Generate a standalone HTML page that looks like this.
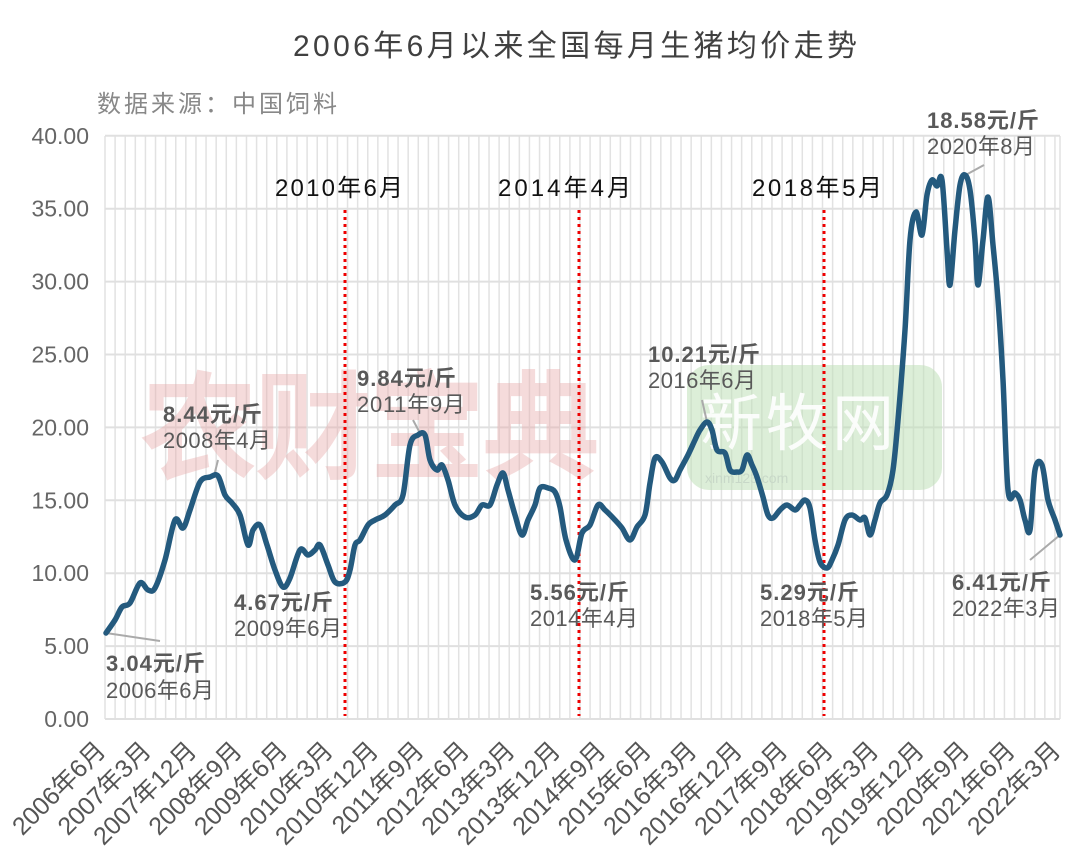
<!DOCTYPE html>
<html><head><meta charset="utf-8"><style>
body{margin:0;background:#fff;}
svg{display:block;font-family:"Liberation Sans","Noto Sans CJK SC",sans-serif;}
</style></head><body>
<svg id="s" width="1080" height="868" viewBox="0 0 1080 868">
<text x="293" y="56" font-size="30" fill="#404040" textLength="564">2006年6月以来全国每月生猪均价走势</text>
<text x="97" y="112" font-size="24" fill="#888" letter-spacing="3">数据来源：中国饲料</text>
<g id="grid"></g>
<text x="140" y="470" font-size="118" font-weight="bold" fill="#e8a8a8" opacity="0.4" letter-spacing="-4">农财宝典</text>
<rect x="687" y="365" width="255" height="125" rx="22" fill="#bfe0b8" opacity="0.55"/>
<text x="700" y="445" font-size="62" fill="#fff" opacity="0.9" letter-spacing="4">新牧网</text>
<text x="705" y="483" font-size="14" fill="#c8d8c8">xinm123.com</text>
<g stroke="#e00" stroke-width="3" stroke-dasharray="3,4">
<line x1="345" y1="210" x2="345" y2="716"/><line x1="579" y1="210" x2="579" y2="716"/><line x1="824" y1="210" x2="824" y2="716"/>
</g>
<g font-size="24" fill="#111">
<text x="275" y="196" textLength="128">2010年6月</text>
<text x="498" y="196" textLength="133">2014年4月</text>
<text x="752" y="196" textLength="130">2018年5月</text>
</g>
<g stroke="#aaa" stroke-width="2">
<line x1="106" y1="633" x2="160" y2="641"/><line x1="214" y1="476" x2="218" y2="460"/>
<line x1="421" y1="435" x2="413" y2="420"/><line x1="707" y1="422" x2="702" y2="400"/>
<line x1="962" y1="177" x2="984" y2="165"/><line x1="1060" y1="535" x2="1030" y2="560"/>
</g>
<path id="ln" fill="none" stroke="#245a7e" stroke-width="5.5" stroke-linejoin="round" stroke-linecap="round"/>
<g font-size="22" fill="#595959">
<text x="106" y="671" font-weight="bold" textLength="99">3.04元/斤</text><text x="106" y="698" textLength="108">2006年6月</text>
<text x="163" y="422" font-weight="bold" textLength="99">8.44元/斤</text><text x="163" y="448" textLength="108">2008年4月</text>
<text x="234" y="610" font-weight="bold" textLength="99">4.67元/斤</text><text x="234" y="636" textLength="108">2009年6月</text>
<text x="357" y="386" font-weight="bold" textLength="99">9.84元/斤</text><text x="357" y="412" textLength="108">2011年9月</text>
<text x="530" y="600" font-weight="bold" textLength="99">5.56元/斤</text><text x="530" y="626" textLength="108">2014年4月</text>
<text x="648" y="362" font-weight="bold" textLength="112">10.21元/斤</text><text x="648" y="388" textLength="108">2016年6月</text>
<text x="760" y="600" font-weight="bold" textLength="99">5.29元/斤</text><text x="760" y="626" textLength="108">2018年5月</text>
<text x="927" y="128" font-weight="bold" textLength="112">18.58元/斤</text><text x="927" y="154" textLength="108">2020年8月</text>
<text x="952" y="590" font-weight="bold" textLength="99">6.41元/斤</text><text x="952" y="616" textLength="108">2022年3月</text>
</g>
<g id="ax" font-size="23" fill="#666"></g>
</svg>
<script>
var NS="http://www.w3.org/2000/svg";
function el(t,a,p,txt){var e=document.createElementNS(NS,t);for(var k in a)e.setAttribute(k,a[k]);if(txt)e.textContent=txt;p.appendChild(e);return e;}
var g=document.getElementById('grid'),ax=document.getElementById('ax');
var x0=105,x1=1060,step=(x1-x0)/189;
for(var m=0;m<=189;m+=2){var x=x0+m*step;el('line',{x1:x,y1:136,x2:x,y2:719,stroke:'#e2e2e2','stroke-width':1.5},g);}
el('line',{x1:x1,y1:136,x2:x1,y2:719,stroke:'#e2e2e2','stroke-width':1.5},g);
for(var i=0;i<=8;i++){var y=719-i*72.9;el('line',{x1:x0,y1:y,x2:x1,y2:y,stroke:'#e0e0e0','stroke-width':2},g);
el('text',{x:89,y:y+8,'text-anchor':'end'},ax,(i*5).toFixed(2));}
var labs=[];var yr=2006,mo=6;
for(var i=0;i<22;i++){labs.push(yr+'年'+mo+'月');mo+=9;while(mo>12){mo-=12;yr++;}}
labs.forEach(function(t,i){var x=x0+i*9*step+2;el('text',{x:x,y:752,'text-anchor':'end',transform:'rotate(-45 '+x+' 752)','font-size':25,fill:'#555'},ax,t);});
var P=[[106,633],[115,620],[122,607],[130,603],[140,583],[148,590],[155,588],[165,560],[175,520],[183,528],[190,510],[200,482],[210,477],[218,476],[225,495],[232,503],[240,515],[248,545],[253,530],[260,525],[267,545],[275,570],[283,587],[290,578],[300,550],[308,555],[315,550],[320,545],[328,565],[335,582],[345,582],[350,570],[355,545],[360,540],[368,525],[375,520],[385,515],[395,505],[403,495],[410,445],[418,435],[425,435],[430,460],[437,470],[442,465],[448,480],[455,505],[465,517],[475,515],[482,505],[490,505],[497,485],[503,473],[508,490],[515,515],[522,535],[528,520],[535,505],[540,488],[548,488],[555,492],[560,507],[566,540],[575,560],[582,533],[590,525],[598,505],[605,510],[615,520],[622,528],[630,540],[637,527],[645,515],[650,483],[655,458],[662,462],[670,478],[675,480],[680,470],[688,455],[695,440],[700,430],[707,422],[712,430],[717,450],[725,453],[730,470],[737,472],[742,470],[747,455],[752,465],[757,477],[763,497],[768,515],[773,518],[780,510],[787,505],[795,510],[800,505],[805,500],[810,508],[815,540],[820,562],[827,568],[832,560],[838,545],[845,520],[852,515],[860,520],[865,518],[870,535],[875,520],[880,503],[887,495],[893,470],[898,420],[905,330],[910,240],[916,212],[922,235],[927,195],[932,180],[937,186],[942,180],[947,250],[950,285],[955,230],[960,185],[965,175],[970,190],[975,240],[978,285],[983,240],[988,197],[993,245],[998,300],[1003,380],[1008,490],[1015,493],[1020,500],[1025,520],[1030,530],[1035,470],[1042,465],[1048,500],[1055,520],[1060,535]];
var d='M'+P[0][0]+','+P[0][1];
for(var i=0;i<P.length-1;i++){var p0=P[Math.max(0,i-1)],p1=P[i],p2=P[i+1],p3=P[Math.min(P.length-1,i+2)];
d+=' C'+(p1[0]+(p2[0]-p0[0])/6).toFixed(1)+','+(p1[1]+(p2[1]-p0[1])/6).toFixed(1)+' '+(p2[0]-(p3[0]-p1[0])/6).toFixed(1)+','+(p2[1]-(p3[1]-p1[1])/6).toFixed(1)+' '+p2[0]+','+p2[1];}
document.getElementById('ln').setAttribute('d',d);
</script>
</body></html>
